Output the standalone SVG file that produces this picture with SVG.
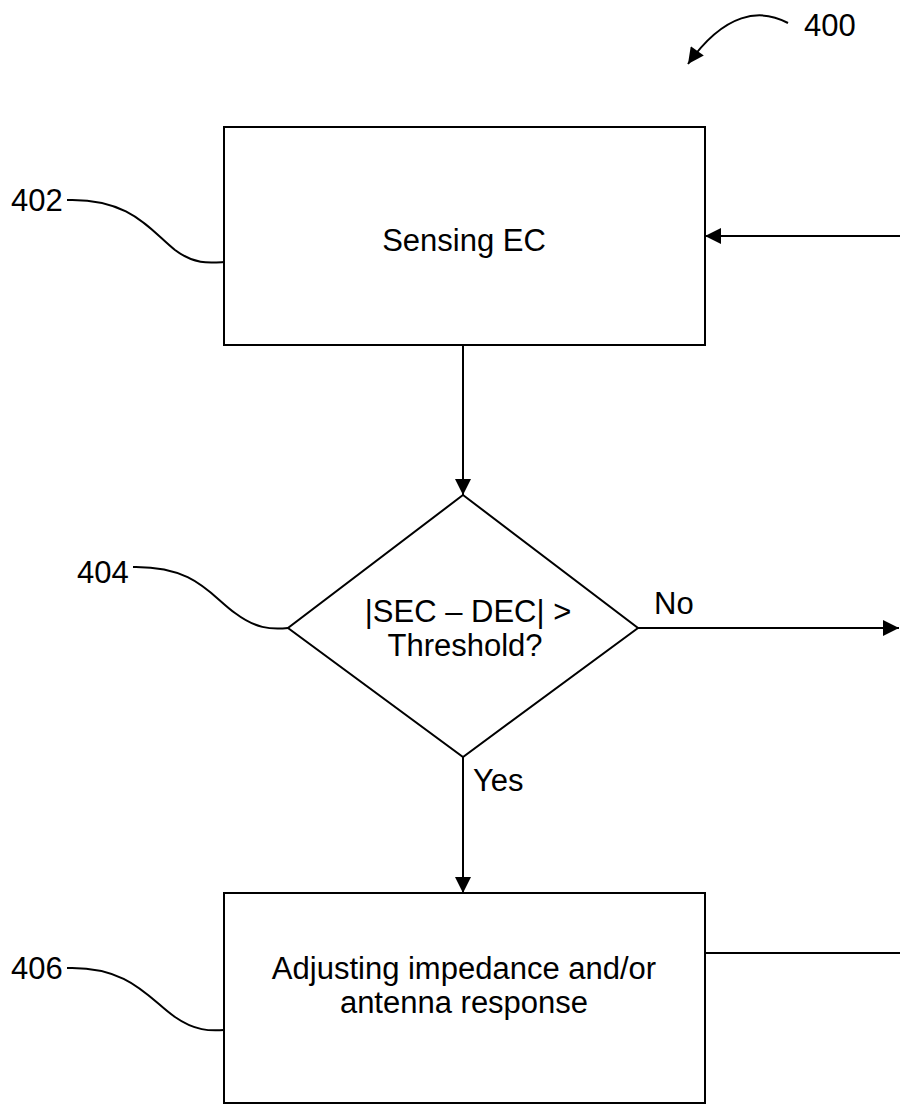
<svg xmlns="http://www.w3.org/2000/svg" width="900" height="1113" viewBox="0 0 900 1113">
<defs>
<style>
.box{fill:#fff;stroke:#000;stroke-width:2}
.ln{fill:none;stroke:#000;stroke-width:2}
.t{font-family:"Liberation Sans",Arial,sans-serif;font-size:31px;fill:#000}
.ref{font-family:"Liberation Sans",Arial,sans-serif;font-size:31px;fill:#000}
</style>
<marker id="ahb" viewBox="0 0 10 10" refX="10" refY="5" markerWidth="20" markerHeight="16" markerUnits="userSpaceOnUse" orient="auto">
<path d="M0,0 L10,5 L0,10 Z" fill="#000"/>
</marker>
</defs>
<g id="connectors">
<path class="ln" d="M900,236 L705,236" marker-end="url(#ahb)"/>
<path class="ln" d="M463,345 L463,495" marker-end="url(#ahb)"/>
<path class="ln" d="M638,628 L899,628" marker-end="url(#ahb)"/>
<path class="ln" d="M463,757 L463,893" marker-end="url(#ahb)"/>
<path class="ln" d="M706,953 L900,953"/>
<text class="t" x="654" y="614">No</text>
<text class="t" x="473" y="791">Yes</text>
</g>
<g id="n400">
<text class="ref" x="804" y="36">400</text>
<path class="ln" d="M788,23 C760,8 725,12 688,64" marker-end="url(#ahb)"/>
</g>
<g id="n402">
<rect class="box" x="224" y="127" width="481" height="218"/>
<text class="t" x="464" y="251" text-anchor="middle">Sensing EC</text>
<text class="ref" x="11" y="211">402</text>
<path class="ln" d="M67,200 C130,198 150,230 175,250 C195,265 210,263 224,262"/>
</g>
<g id="n404">
<polygon class="box" points="463,495 638,628 463,757 288,628"/>
<text class="t" x="468" y="622" text-anchor="middle">|SEC – DEC| &gt;</text>
<text class="t" x="465" y="656" text-anchor="middle">Threshold?</text>
<text class="ref" x="77" y="583">404</text>
<path class="ln" d="M133,567 C195,566 210,595 235,613 C255,628 270,630 288,628"/>
</g>
<g id="n406">
<rect class="box" x="224" y="893" width="481" height="210"/>
<text class="t" x="464" y="979" text-anchor="middle">Adjusting impedance and/or</text>
<text class="t" x="464" y="1013" text-anchor="middle">antenna response</text>
<text class="ref" x="11" y="979">406</text>
<path class="ln" d="M67,968 C130,966 150,1000 175,1017 C195,1031 210,1031 224,1030"/>
</g>
</svg>
